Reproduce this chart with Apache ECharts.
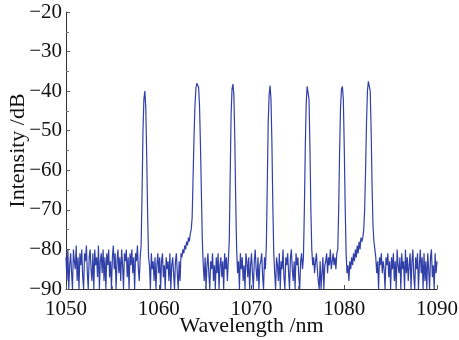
<!DOCTYPE html>
<html>
<head>
<meta charset="utf-8">
<script src="https://cdn.jsdelivr.net/npm/echarts@6/dist/echarts.min.js"></script>
<style>html,body{margin:0;padding:0;background:#fff}#c{width:459px;height:340px}</style>
</head>
<body>
<div id="c"></div>
<script>
// Wavelength grid: start and step (nm)
const wavelengthStart = 1050;
const wavelengthStep = 0.1;
// Intensity (dB), one value per 0.1 nm from 1050.0 to 1090.0
const intensity = [
  -82,-88,-80,-90,-84,-81,-86,-90,-80,-83,   // 1050
  -85,-79,-88,-82,-90,-81,-84,-80,-87,-90,   // 1051
  -81,-83,-79,-86,-90,-82,-80,-85,-88,-81,   // 1052
  -90,-80,-84,-82,-87,-79,-90,-83,-81,-86,   // 1053
  -80,-88,-82,-90,-81,-84,-80,-87,-83,-90,   // 1054
  -82,-79,-85,-81,-90,-83,-80,-86,-82,-88,   // 1055
  -80,-84,-90,-81,-83,-80,-87,-82,-90,-81,   // 1056
  -84,-80,-86,-82,-90,-81,-83,-79,-85,-88,   // 1057
  -82,-79,-66,-50,-42,-40,-44,-56,-71,-82,   // 1058
  -84,-90,-81,-85,-83,-88,-82,-90,-84,-81,   // 1059
  -86,-82,-90,-83,-81,-87,-84,-90,-82,-85,   // 1060
  -83,-88,-81,-90,-84,-82,-86,-90,-83,-81,   // 1061
  -86,-90,-83,-88,-81,-82,-80,-81,-79,-80,   // 1062
  -78,-79,-77,-78,-76,-75,-72,-62,-52,-44,   // 1063
  -39.5,-38,-37.6,-39,-44,-54,-66,-78,-84,-88, // 1064
  -82,-90,-84,-81,-86,-90,-83,-85,-81,-88,   // 1065
  -84,-90,-82,-86,-81,-90,-84,-82,-87,-83,   // 1066
  -90,-81,-85,-82,-88,-83,-78,-62,-46,-39.5, // 1067
  -38.2,-41,-52,-68,-80,-86,-83,-90,-81,-85, // 1068
  -82,-88,-84,-90,-81,-83,-87,-82,-90,-84,   // 1069
  -81,-86,-90,-83,-80,-85,-88,-82,-90,-84,   // 1070
  -83,-81,-87,-90,-82,-85,-79,-64,-48,-41,   // 1071
  -38.6,-42,-53,-69,-81,-86,-90,-82,-84,-88, // 1072
  -81,-90,-83,-85,-80,-87,-90,-82,-84,-81,   // 1073
  -86,-90,-82,-80,-85,-88,-83,-90,-81,-84,   // 1074
  -82,-87,-90,-83,-81,-85,-82,-70,-54,-43,   // 1075
  -38.8,-38.3,-42,-54,-70,-80,-84,-82,-86,-83, // 1076
  -81,-85,-88,-90,-83,-90,-86,-82,-90,-84,   // 1077
  -83,-81,-86,-82,-84,-80,-85,-83,-81,-84,   // 1078
  -82,-85,-81,-80,-70,-55,-44,-39.5,-38.8,-42, // 1079
  -54,-69,-81,-86,-84,-88,-83,-85,-82,-84,   // 1080
  -81,-83,-80,-82,-79,-81,-78,-80,-77,-78,   // 1081
  -77,-75,-70,-60,-48,-40,-37.5,-37,-40,-50, // 1082
  -64,-74,-78,-80,-82,-86,-83,-90,-82,-84,   // 1083
  -81,-86,-83,-85,-90,-82,-84,-81,-87,-83,   // 1084
  -90,-82,-85,-81,-88,-83,-90,-80,-84,-86,   // 1085
  -82,-90,-81,-85,-83,-90,-80,-86,-82,-88,   // 1086
  -84,-81,-90,-83,-80,-87,-90,-82,-85,-81,   // 1087
  -90,-84,-80,-86,-82,-90,-81,-88,-83,-90,   // 1088
  -81,-85,-90,-82,-80,-87,-84,-90,-81,-86,   // 1089
  -83                                          // 1090
];
const xTicks = [1050, 1060, 1070, 1080, 1090];
const yTicks = [-90, -80, -70, -60, -50, -40, -30, -20];

const seriesData = intensity.map((v, i) => [Math.round((wavelengthStart + i * wavelengthStep) * 10) / 10, v]);

const fontFam = '"Liberation Serif", "DejaVu Serif", serif';
const axisCommon = {
  axisLine: { show: true, lineStyle: { color: '#333', width: 1 } },
  axisTick: { show: true, inside: true, length: 4, lineStyle: { color: '#555' } },
  minorTick: { show: true, splitNumber: 2, length: 3, lineStyle: { color: '#777' } },
  splitLine: { show: false },
  nameMoveOverlap: false,
  nameTextStyle: { fontFamily: fontFam, fontSize: 22, color: '#111' }
};

const chart = echarts.init(document.getElementById('c'), null, { renderer: 'canvas' });
chart.setOption({
  animation: false,
  backgroundColor: '#fff',
  grid: { left: 66, right: 22, top: 12, bottom: 51, containLabel: false, outerBoundsMode: 'none' },
  xAxis: Object.assign({}, axisCommon, {
    type: 'value',
    min: xTicks[0], max: xTicks[xTicks.length - 1], interval: 10,
    name: 'Wavelength /nm', nameLocation: 'middle', nameGap: 26,
    axisLabel: { fontFamily: fontFam, fontSize: 21, color: '#111', margin: 10,
      formatter: v => String(v) }
  }),
  yAxis: Object.assign({}, axisCommon, {
    type: 'value',
    min: yTicks[0], max: yTicks[yTicks.length - 1], interval: 10,
    name: 'Intensity /dB', nameLocation: 'middle', nameGap: 37, nameRotate: 90,
    axisLabel: { fontFamily: fontFam, fontSize: 21, color: '#111', margin: 4,
      formatter: v => String(v).replace('-', '\u2212') }
  }),
  series: [{
    type: 'line',
    data: seriesData,
    showSymbol: false,
    symbol: 'none',
    clip: true,
    lineStyle: { color: '#3040a8', width: 1.2 }
  }]
});
</script>
</body>
</html>
